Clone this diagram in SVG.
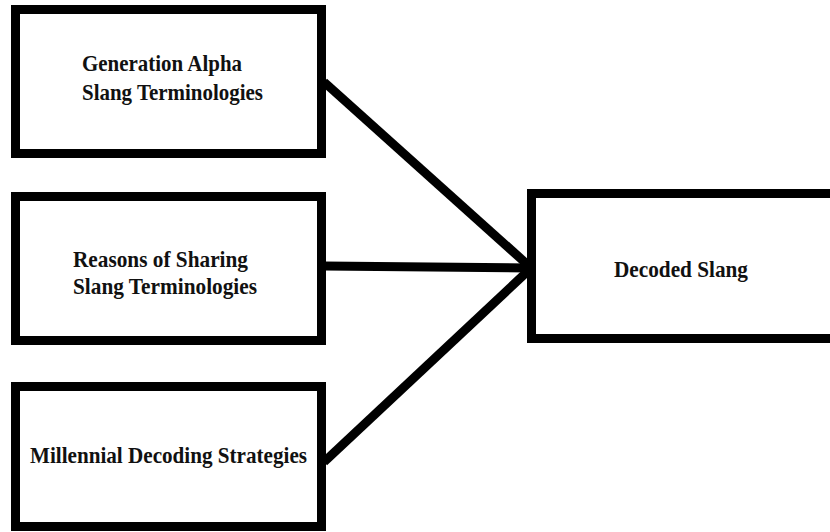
<svg xmlns="http://www.w3.org/2000/svg" width="830" height="532" viewBox="0 0 830 532">
<style>
.box{fill:#fff;stroke:#000;stroke-width:9}
.lbl{font-family:"Liberation Serif","Times New Roman",serif;font-weight:bold;font-size:23px;fill:#111}
.con{stroke:#000;stroke-width:9;fill:none;stroke-linecap:butt}
</style>
<rect width="830" height="532" fill="#fff"/>
<g id="connectors">
<line class="con" x1="324" y1="82" x2="529" y2="266"/>
<line class="con" x1="324" y1="266" x2="529" y2="268"/>
<line class="con" x1="324" y1="462" x2="529" y2="270"/>
</g>
<g id="node-generation-alpha">
<rect class="box" x="15.5" y="9.5" width="306" height="144"/>
<text class="lbl" x="82" y="71" textLength="160" lengthAdjust="spacingAndGlyphs">Generation Alpha</text>
<text class="lbl" x="82" y="100" textLength="181" lengthAdjust="spacingAndGlyphs">Slang Terminologies</text>
</g>
<g id="node-reasons">
<rect class="box" x="15.5" y="196.5" width="306" height="144"/>
<text class="lbl" x="73" y="267" textLength="175" lengthAdjust="spacingAndGlyphs">Reasons of Sharing</text>
<text class="lbl" x="73" y="294" textLength="184" lengthAdjust="spacingAndGlyphs">Slang Terminologies</text>
</g>
<g id="node-millennial">
<rect class="box" x="15.5" y="386.5" width="306" height="140"/>
<text class="lbl" x="30" y="463" textLength="277" lengthAdjust="spacingAndGlyphs">Millennial Decoding Strategies</text>
</g>
<g id="node-decoded">
<rect class="box" x="531.5" y="193.5" width="310" height="145"/>
<text class="lbl" x="614" y="277" textLength="134" lengthAdjust="spacingAndGlyphs">Decoded Slang</text>
</g>
</svg>
